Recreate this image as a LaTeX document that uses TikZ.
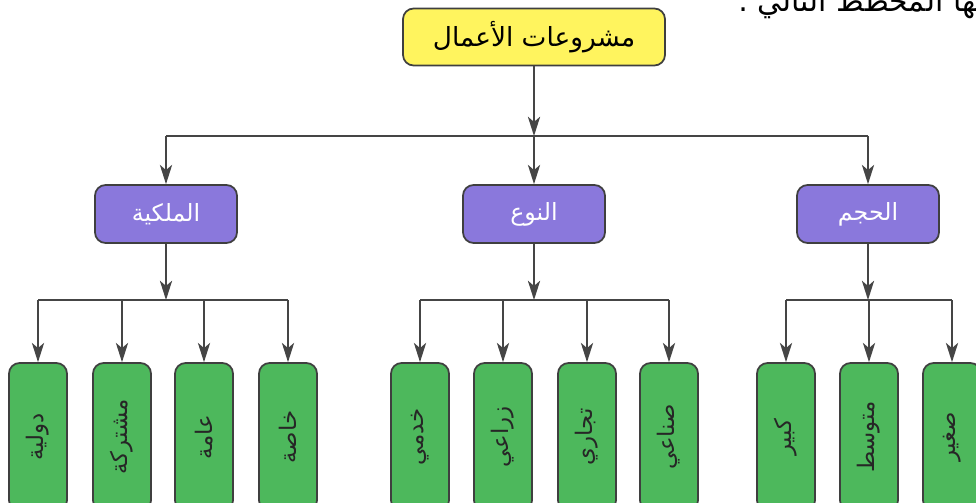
\documentclass[tikz,border=0pt]{standalone}
\usepackage{fontspec}
\newfontfamily\arabicfont[Script=Arabic]{DejaVu Sans}
\TeXXeTstate=1
\usepackage{tikz}
\usetikzlibrary{arrows.meta}
\definecolor{rootyellow}{HTML}{FFF45E}
\definecolor{midpurple}{HTML}{8A78DC}
\definecolor{leafgreen}{HTML}{4DB85C}
\definecolor{edgegray}{HTML}{3F3F3F}
\definecolor{linegray}{HTML}{454545}
\newcommand{\artxt}[1]{{\arabicfont\beginR #1\endR}}
\newcommand{\leaftxt}[1]{\rotatebox{90}{\artxt{#1}}}
\tikzstyle{rootbox} = [draw=edgegray, fill=rootyellow, line width=1pt,
   rounded corners=6pt, inner sep=0pt, minimum width=5.24cm,
   minimum height=1.14cm, font=\fontsize{15}{18}\selectfont]
\tikzstyle{midbox} = [draw=edgegray, fill=midpurple, line width=1pt,
   rounded corners=6pt, inner sep=0pt, minimum width=2.84cm,
   minimum height=1.16cm, text=white, font=\fontsize{13.5}{16}\selectfont]
\tikzstyle{leafbox} = [draw=edgegray, fill=leafgreen, line width=1pt,
   rounded corners=6pt, inner sep=0pt, minimum width=1.16cm,
   minimum height=2.96cm, text=black!85, font=\fontsize{13}{16}\selectfont]
\tikzstyle{link} = [draw=linegray, line width=0.85pt]
\tikzstyle{arr} = [link, -{Stealth[length=11pt,width=7pt,inset=3pt]}]
\begin{document}
\begin{tikzpicture}[x=0.02cm, y=-0.02cm]
  \useasboundingbox (0,0) rectangle (976,503);
  \clip (0,0) rectangle (976,503);
  \node [anchor=base west, font=\fontsize{17}{20}\selectfont] (cap) at (732,12) {\artxt{يوضحها المخطط التالي :}};
  \node [rootbox] (root) at (534,37) {\artxt{مشروعات الأعمال}};
  \node [midbox] (own) at (166,214) {\artxt{الملكية}};
  \node [midbox] (kind) at (534,214) {\artxt{النوع}};
  \node [midbox] (size) at (868,214) {\artxt{الحجم}};
  % leaves
  \node [leafbox] (o1) at (38,437) {\leaftxt{دولية}};
  \node [leafbox] (o2) at (122,437) {\leaftxt{مشتركة}};
  \node [leafbox] (o3) at (204,437) {\leaftxt{عامة}};
  \node [leafbox] (o4) at (288,437) {\leaftxt{خاصة}};
  \node [leafbox] (k1) at (420,437) {\leaftxt{خدمي}};
  \node [leafbox] (k2) at (503,437) {\leaftxt{زراعي}};
  \node [leafbox] (k3) at (587,437) {\leaftxt{تجاري}};
  \node [leafbox] (k4) at (669,437) {\leaftxt{صناعي}};
  \node [leafbox] (s1) at (786,437) {\leaftxt{كبير}};
  \node [leafbox] (s2) at (869,437) {\leaftxt{متوسط}};
  \node [leafbox] (s3) at (952,437) {\leaftxt{صغير}};
  \coordinate (j0) at (534,136);
  \coordinate (j1) at (166,300);
  \coordinate (j2) at (534,300);
  \coordinate (j3) at (868,300);
  \draw [arr] (root) -- (j0);
  \draw [link] (own |- j0) -- (size |- j0);
  \draw [arr] (own |- j0) -- (own);
  \draw [arr] (j0) -- (kind);
  \draw [arr] (size |- j0) -- (size);
  \draw [arr] (own) -- (j1);
  \draw [arr] (kind) -- (j2);
  \draw [arr] (size) -- (j3);
  \draw [link] (o1 |- j1) -- (o4 |- j1);
  \draw [link] (k1 |- j2) -- (k4 |- j2);
  \draw [link] (s1 |- j3) -- (s3 |- j3);
  \foreach \n in {1,...,4} {
    \draw [arr] (o\n |- j1) -- (o\n);
    \draw [arr] (k\n |- j2) -- (k\n);
  }
  \foreach \n in {1,...,3}
    \draw [arr] (s\n |- j3) -- (s\n);
\end{tikzpicture}
\end{document}
